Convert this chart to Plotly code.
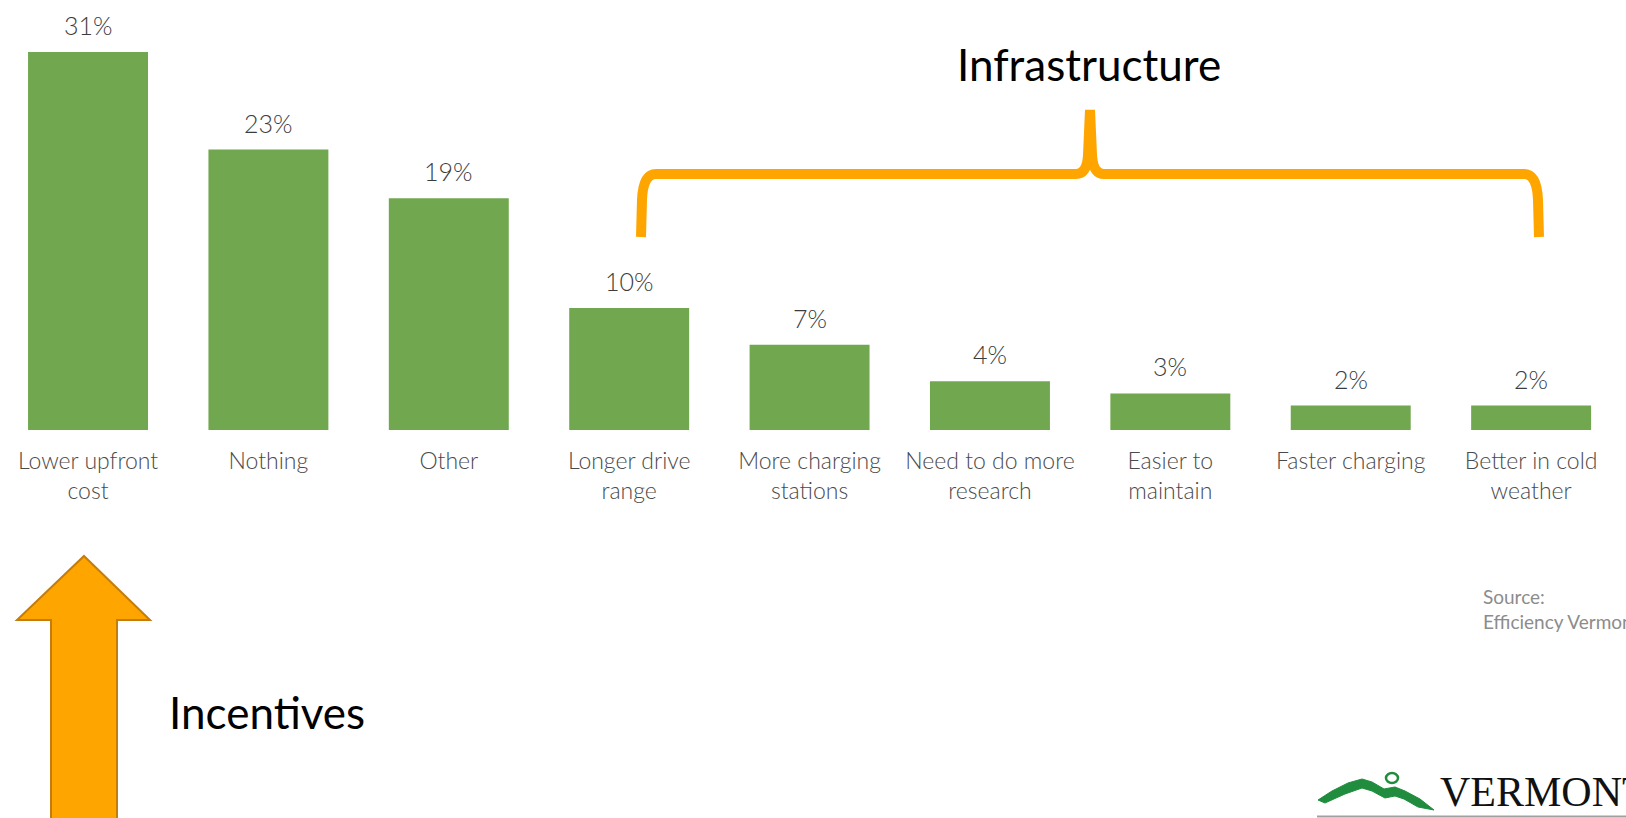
import plotly.graph_objects as go

categories = ["Lower upfront<br>cost", "Nothing", "Other", "Longer drive<br>range",
              "More charging<br>stations", "Need to do more<br>research", "Easier to<br>maintain",
              "Faster charging", "Better in cold<br>weather"]
values = [31, 23, 19, 10, 7, 4, 3, 2, 2]
value_labels = ["31%", "23%", "19%", "10%", "7%", "4%", "3%", "2%", "2%"]

W, H = 1626, 818
PLOT_H = 430  # plot area height in px (baseline)

BAR_COLOR = "#71a84f"
ORANGE = "#ffa500"

def px_x(px):
    return px / W

def px_y(py):
    return 1 - py / PLOT_H

xs = list(range(len(categories)))

fig = go.Figure()
fig.add_trace(go.Bar(x=xs, y=values, width=0.665, marker=dict(color=BAR_COLOR, line=dict(width=0)),
                     hoverinfo="skip"))

annotations = []
for x, v, t in zip(xs, values, value_labels):
    annotations.append(dict(x=x, y=v, xref="x", yref="y", text=t, showarrow=False,
                            yanchor="middle", yshift=27,
                            font=dict(family="Lato", size=25, color="#3c3c3c", weight=300)))

# Infrastructure label
annotations.append(dict(x=px_x(1089), y=px_y(64), xref="paper", yref="paper", text="Infrastructure",
                        showarrow=False, xanchor="center", yanchor="middle",
                        font=dict(family="Lato", size=44, color="#000000")))
# Incentives label
annotations.append(dict(x=px_x(167), y=px_y(712), xref="paper", yref="paper", text="Incentives",
                        showarrow=False, xanchor="left", yanchor="middle",
                        font=dict(family="Lato", size=44, color="#000000")))
# Source
annotations.append(dict(x=px_x(1481), y=px_y(596), xref="paper", yref="paper", text="Source:",
                        showarrow=False, xanchor="left", yanchor="middle",
                        font=dict(family="Lato", size=19, color="#8c8c8c")))
annotations.append(dict(x=px_x(1481), y=px_y(621), xref="paper", yref="paper", text="Efficiency Vermont",
                        showarrow=False, xanchor="left", yanchor="middle",
                        font=dict(family="Lato", size=19, color="#8c8c8c")))
# Vermont logo text
annotations.append(dict(x=px_x(1438), y=px_y(792), xref="paper", yref="paper", text="VERMONT",
                        showarrow=False, xanchor="left", yanchor="middle",
                        font=dict(family="Liberation Serif", size=42, color="#111111")))

def path_px(points, close=False):
    s = "M " + " L ".join(f"{px_x(a):.5f},{px_y(b):.5f}" for a, b in points)
    if close:
        s += " Z"
    return s

def brace_path():
    def P(a, b):
        return f"{px_x(a):.5f},{px_y(b):.5f}"
    segs = [
        f"M {P(641, 237)}",
        f"L {P(642, 200)}",
        f"Q {P(643, 174)} {P(656, 174)}",
        f"L {P(1076, 174)}",
        f"Q {P(1087, 174)} {P(1088, 155)}",
        f"L {P(1090, 110)}",
        f"L {P(1092, 155)}",
        f"Q {P(1093, 174)} {P(1104, 174)}",
        f"L {P(1524, 174)}",
        f"Q {P(1537, 174)} {P(1538, 200)}",
        f"L {P(1539, 237)}",
    ]
    return " ".join(segs)

shapes = []
shapes.append(dict(type="path", xref="paper", yref="paper", path=brace_path(),
                   line=dict(color=ORANGE, width=10), fillcolor="rgba(0,0,0,0)"))

# Up arrow
arrow = [(84, 556), (150, 620), (117, 620), (117, 830), (51, 830), (51, 620), (17, 620)]
shapes.append(dict(type="path", xref="paper", yref="paper", path=path_px(arrow, close=True),
                   fillcolor=ORANGE, line=dict(color="#c47d0c", width=2)))

# Vermont logo mountain
mountain = [(1318, 800), (1332, 791), (1348, 783), (1362, 779), (1372, 782), (1384, 789),
            (1395, 787), (1405, 791), (1420, 799), (1434, 810), (1418, 807), (1404, 799),
            (1395, 796), (1385, 798), (1372, 791), (1362, 788), (1345, 794), (1325, 803)]
shapes.append(dict(type="path", xref="paper", yref="paper", path=path_px(mountain, close=True),
                   fillcolor="#1f8d3d", line=dict(color="#1f8d3d", width=1)))
shapes.append(dict(type="circle", xref="paper", yref="paper",
                   x0=px_x(1386), x1=px_x(1398), y0=px_y(783), y1=px_y(773),
                   line=dict(color="#1f8d3d", width=2.5), fillcolor="rgba(0,0,0,0)"))
shapes.append(dict(type="line", xref="paper", yref="paper",
                   x0=px_x(1317), x1=1.0, y0=px_y(816.5), y1=px_y(816.5),
                   line=dict(color="#a0a0a0", width=2)))

fig.update_layout(
    width=W, height=H,
    margin=dict(l=0, r=0, t=0, b=H - PLOT_H, pad=0),
    paper_bgcolor="white", plot_bgcolor="white",
    showlegend=False,
    bargap=0.335,
    annotations=annotations,
    shapes=shapes,
    xaxis=dict(range=[-0.488, 8.526], tickmode="array", tickvals=xs, ticktext=categories,
               ticks="", showline=False, showgrid=False, zeroline=False,
               tickfont=dict(family="Lato", size=23, color="#4a4a4a", weight=300),
               ticklabelstandoff=15),
    yaxis=dict(range=[0, 35.27], visible=False, showgrid=False, zeroline=False),
)

fig.write_html("out.html")
